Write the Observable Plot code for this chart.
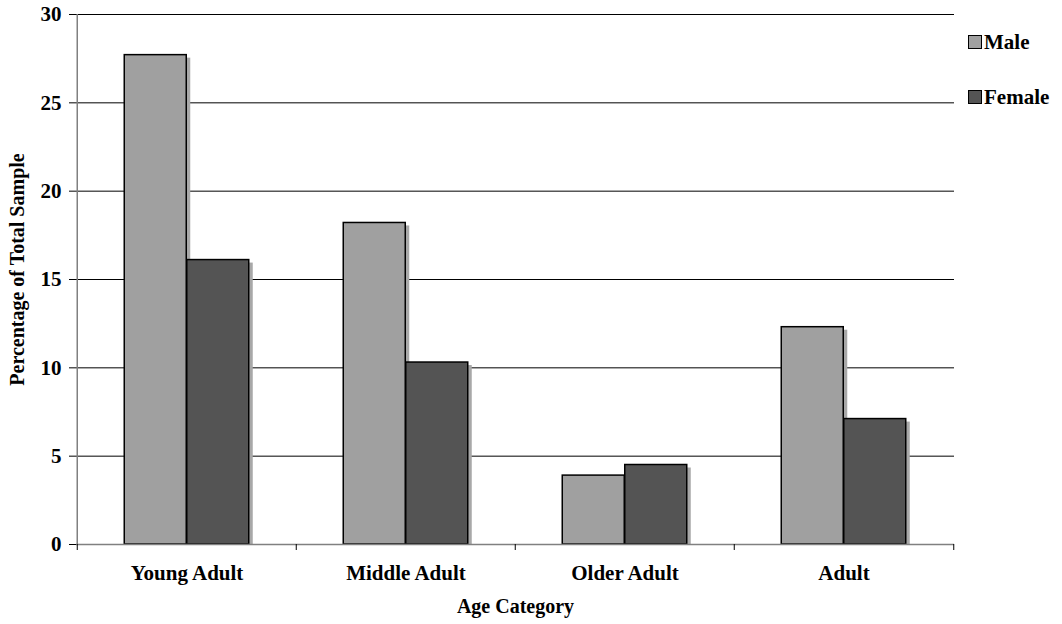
<!DOCTYPE html>
<html>
<head>
<meta charset="utf-8">
<script src="https://cdn.jsdelivr.net/npm/d3@7"></script>
<script src="https://cdn.jsdelivr.net/npm/@observablehq/plot@0.6"></script>
<style>
  body { margin: 0; background: #fff; }
  #chart { position: relative; width: 1062px; height: 624px; font-family: "Liberation Serif", "Times New Roman", serif; font-weight: bold; }
  #legend { position: absolute; left: 968px; top: 30px; font-size: 21px; color: #000; }
  #legend .item { display: flex; align-items: center; height: 24px; margin-bottom: 31px; }
  #legend .swatch { width: 12px; height: 12px; border: 1px solid #000; margin-right: 2px; }
</style>
</head>
<body>
<div id="chart"><div id="legend"></div></div>
<script>
// Age categories along the x axis
const categories = ["Young Adult", "Middle Adult", "Older Adult", "Adult"];
// Percentage of total sample per category
const male = [27.7, 18.2, 3.9, 12.3];
const female = [16.1, 10.3, 4.5, 7.1];
const series = ["Male", "Female"];
const seriesColors = ["#a0a0a0", "#545454"];
const yTicks = [0, 5, 10, 15, 20, 25, 30];

const W = 1062, H = 624;
const ML = 76, MR = 108, MT = 14, MB = 80;
const band = (W - ML - MR) / categories.length;
const barW = 62.5;
const inset = (band - barW) / 2;

const rows = categories.flatMap((c, i) => [
  {category: c, series: "Male", value: male[i]},
  {category: c, series: "Female", value: female[i]}
]);
const offset = {Male: -barW / 2, Female: barW / 2};
const color = Object.fromEntries(series.map((s, i) => [s, seriesColors[i]]));

function bars(s, options) {
  return Plot.barY(rows.filter(d => d.series === s), {
    x: "category", y: "value", insetLeft: inset, insetRight: inset, dx: offset[s], ...options
  });
}

const plot = Plot.plot({
  width: W, height: H,
  marginLeft: ML, marginRight: MR, marginTop: MT, marginBottom: MB,
  style: {fontFamily: "'Liberation Serif', 'Times New Roman', serif", fontWeight: "bold", background: "#fff", color: "#000"},
  x: {domain: categories, padding: 0, label: null},
  y: {domain: [0, 30], label: null},
  marks: [
    // horizontal gridlines
    Plot.ruleY(yTicks.filter(d => d > 0), {stroke: "#000", strokeWidth: 1}),
    // drop shadows behind the bars
    ...series.map(s => bars(s, {fill: "#a8a8a8", dx: offset[s] + 4, dy: 3, insetBottom: 3})),
    // bars
    ...series.map(s => bars(s, {fill: color[s], stroke: "#000", strokeWidth: 1.5})),
    // axis lines
    Plot.ruleY([0], {stroke: "#808080", strokeWidth: 1.5}),
    Plot.ruleX([categories[0]], {x: d => d, dx: -band / 2, stroke: "#808080", strokeWidth: 1.5}),
    // category boundary ticks below the baseline
    Plot.ruleX(categories, {x: d => d, y1: 0, y2: 0, dx: -band / 2, insetBottom: -6, stroke: "#000"}),
    Plot.ruleX([categories[categories.length - 1]], {x: d => d, y1: 0, y2: 0, dx: band / 2, insetBottom: -6, stroke: "#000"}),
    Plot.axisY({ticks: yTicks, tickSize: 7, tickPadding: 8, fontSize: 21, label: null, stroke: "#000"}),
    Plot.axisX({tickSize: 0, tickPadding: 21, fontSize: 21, label: null}),
    // axis titles
    Plot.text(["Age Category"], {frameAnchor: "bottom", dy: 68, fontSize: 20, text: d => d}),
    Plot.text(["Percentage of Total Sample"], {frameAnchor: "left", textAnchor: "middle", dx: -59, dy: -10, rotate: -90, fontSize: 20, text: d => d})
  ]
});
document.getElementById("chart").prepend(plot);

// series legend at the upper right
const legend = d3.select("#legend");
series.forEach((s, i) => {
  const item = legend.append("div").attr("class", "item");
  item.append("div").attr("class", "swatch").style("background", seriesColors[i]);
  item.append("span").text(s);
});
</script>
</body>
</html>
